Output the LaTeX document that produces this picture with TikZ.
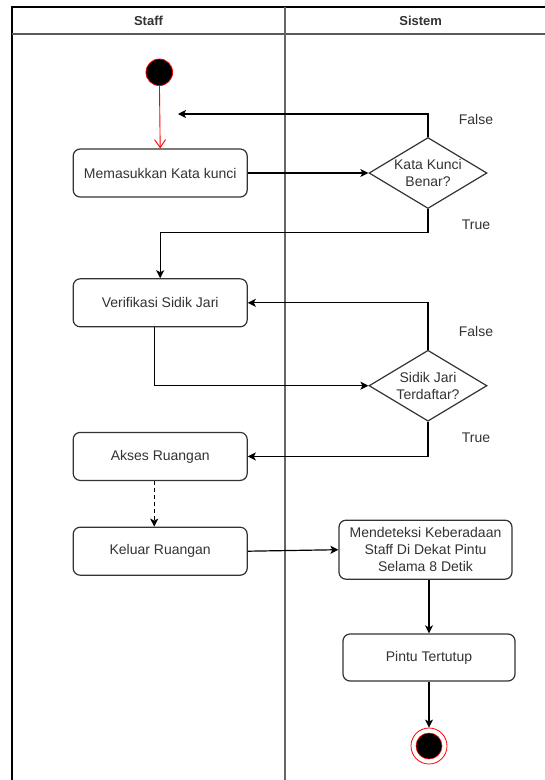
\documentclass[tikz,border=0pt]{standalone}
\usepackage{fontspec}
\setmainfont{Liberation Sans}
\usetikzlibrary{shapes.geometric,arrows.meta}

\definecolor{garis}{HTML}{333333}
\tikzset{
  aksi/.style={draw=garis, line width=1.2pt, rounded corners=7pt, minimum width=174pt,
    minimum height=48pt, align=center, text=garis, font=\fontsize{14}{17}\selectfont},
  cabang/.style={draw=garis, line width=1.2pt, diamond, aspect=1.68, inner sep=0pt,
    minimum width=118pt, minimum height=71pt, align=center, text=garis,
    font=\fontsize{14}{17}\selectfont},
  alur/.style={line width=1.2pt, -{Stealth[length=8pt,width=8pt,inset=2pt]}},
  ket/.style={text=garis, font=\fontsize{14}{17}\selectfont},
  judul/.style={text=garis, font=\fontsize{13}{15}\selectfont\bfseries}
}

\begin{document}
\begin{tikzpicture}[x=1pt, y=-1pt] % 1 pt = 1 piksel gambar
\useasboundingbox[fill=white] (0,0) rectangle (545,780);

% kolom staff dan sistem
\draw[line width=1.5pt] (12,800) -- (12,7) -- (556,7);
\draw[line width=1.5pt, black!65] (12,34) -- (556,34);
\draw[line width=1.5pt, black!60] (285,7) -- (285,800);
\node[judul] (staff) at (148.5,21) {Staff};
\node[judul] (sistem) at (420.7,21) {Sistem};

\node[circle, draw=red, fill=black, line width=0.8pt, minimum size=26.6pt, inner sep=0pt] (start) at (159.3,72.3) {};
\node[aksi] (enterkey) at (160.2,173) {Memasukkan Kata kunci};
\node[cabang] (cekkey) at (428,173) {Kata Kunci\\Benar?};
\node[aksi] (verif) at (160.2,302.8) {Verifikasi Sidik Jari};
\node[cabang] (cekjari) at (428,385.7) {Sidik Jari\\Terdaftar?};
\node[aksi] (akses) at (160.2,456.4) {Akses Ruangan};
\node[aksi] (keluar) at (160.2,551.2) {Keluar Ruangan};
\node[aksi, minimum width=173pt, minimum height=59pt] (deteksi) at (425.5,549.7)
  {Mendeteksi Keberadaan\\Staff Di Dekat Pintu\\Selama 8 Detik};
\node[aksi, minimum width=172pt, minimum height=47pt] (tutup) at (429,657.5) {Pintu Tertutup};
\node[circle, draw=red, fill=white, line width=0.8pt, minimum size=36pt, inner sep=0pt] (finish) at (429,746) {};
\node[circle, draw=red, fill=black, line width=0.6pt, minimum size=26pt, inner sep=0pt] at (finish) {};

\node[ket] (salah1) at (476,119) {False};
\node[ket] (benar1) at (476,225) {True};
\node[ket] (salah2) at (476,331.7) {False};
\node[ket] (benar2) at (476,438) {True};

\coordinate (kembali) at (178,114);

\draw[red, line width=0.9pt, -{Straight Barb[length=8pt,width=11pt]}] (start) -- (enterkey.north);
\draw[alur] (enterkey.east) -- (cekkey.west);
\draw[alur] (cekkey.north) |- (kembali);
\draw[alur] (cekkey.south) -- ++(0,23.5) -| (verif.north);
\draw[alur] ([xshift=-6pt]verif.south) |- (cekjari.west);
\draw[alur] (cekjari.north) |- (verif.east);
\draw[alur] (cekjari.south) |- (akses.east);
\draw[alur, dash pattern=on 4pt off 3pt] ([xshift=-6pt]akses.south) -- ([xshift=-6pt]keluar.north);
\draw[alur] (keluar.east) -- (deteksi.west);
\draw[alur] (tutup.north |- deteksi.south) -- (tutup.north);
\draw[alur] (tutup.south) -- (finish.north);
\end{tikzpicture}
\end{document}
